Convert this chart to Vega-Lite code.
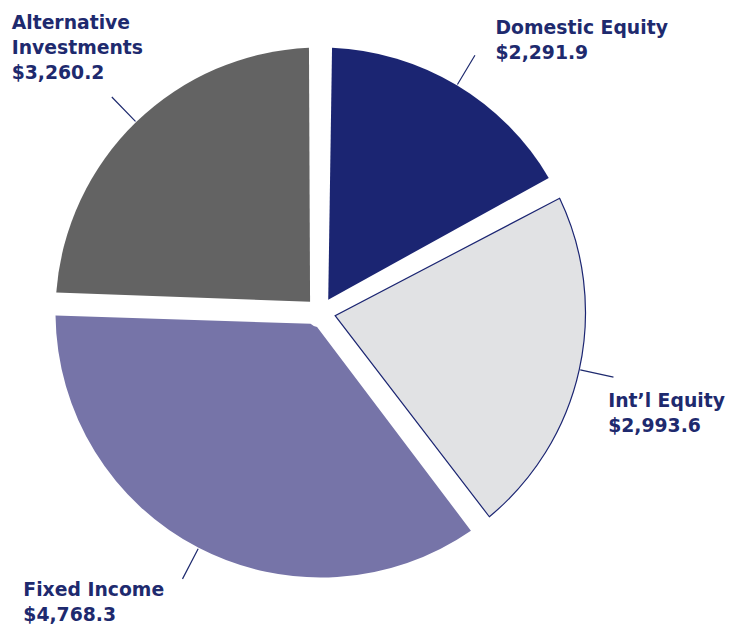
{
  "$schema": "https://vega.github.io/schema/vega-lite/v6.json",
  "width": 641,
  "height": 625,
  "autosize": {"type": "none"},
  "padding": {"left": 0, "top": 0, "right": 93, "bottom": 1},
  "background": "white",
  "config": {"view": {"stroke": null}},
  "data": {
    "values": [
      {"name": "Domestic Equity", "value": 2291.9, "rank": 1},
      {"name": "Int’l Equity", "value": 2993.6, "rank": 2},
      {"name": "Fixed Income", "value": 4768.3, "rank": 3},
      {"name": "Alternative\nInvestments", "value": 3260.2, "rank": 4}
    ]
  },
  "encoding": {
    "theta": {"field": "value", "type": "quantitative", "stack": true},
    "order": {"field": "rank", "type": "quantitative", "sort": "ascending"}
  },
  "layer": [
    {
      "mark": {"type": "arc", "outerRadius": 265, "innerRadius": 15, "padAngle": 0.087, "strokeWidth": 1.2},
      "encoding": {
        "color": {
          "field": "name",
          "type": "nominal",
          "scale": {
            "domain": ["Domestic Equity", "Int’l Equity", "Fixed Income", "Alternative\nInvestments"],
            "range": ["#1b2572", "#e1e2e4", "#7674a8", "#636363"]
          },
          "legend": null
        },
        "stroke": {"condition": {"test": "datum.rank == 2", "value": "#1b2572"}, "value": "transparent"}
      }
    },
    {
      "mark": {"type": "arc", "innerRadius": 266, "outerRadius": 300, "padAngle": 3.14, "stroke": "#1e2a6e", "strokeWidth": 1.2, "fill": "transparent"}
    },
    {
      "mark": {
        "type": "text",
        "radius": 270,
        "align": "left",
        "baseline": "alphabetic",
        "font": "DejaVu Sans",
        "fontWeight": "bold",
        "fontSize": 18.8,
        "lineHeight": 25,
        "lineBreak": "\n",
        "fill": "#1e2a6e",
        "text": {"expr": "datum.name + '\\n' + format(datum.value, '$,.1f')"},
        "dx": {"expr": "[36, 24, -173, -121][datum.rank - 1]"},
        "dy": {"expr": "[-47, 36, 44, -90][datum.rank - 1]"}
      }
    }
  ]
}
